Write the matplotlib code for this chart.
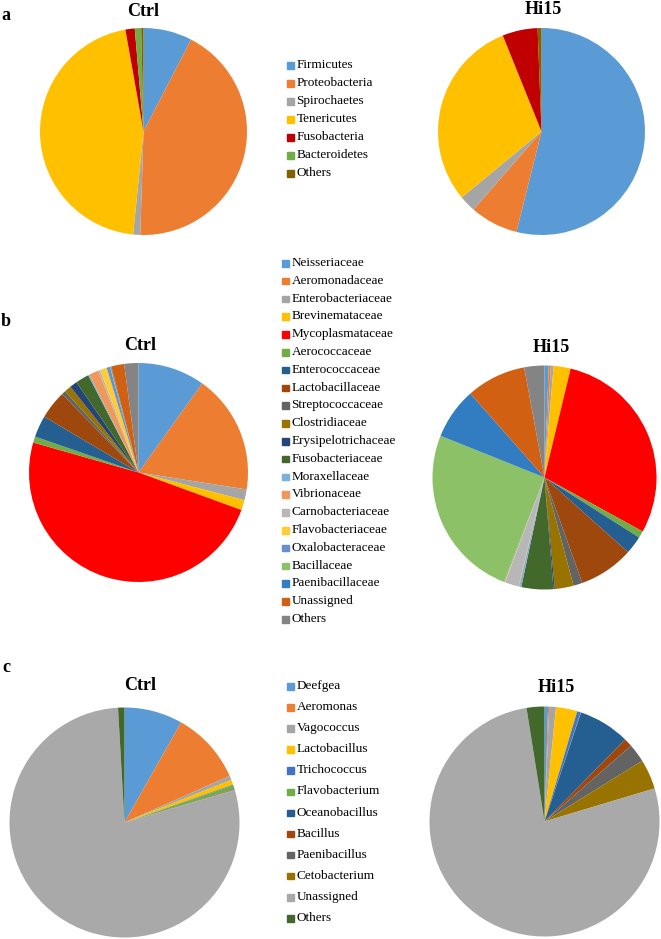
import matplotlib
matplotlib.use("Agg")
import matplotlib.pyplot as plt
from matplotlib.patches import Rectangle

W, H = 661, 939

# a - phylum
phylum = ["Firmicutes", "Proteobacteria", "Spirochaetes", "Tenericutes",
          "Fusobacteria", "Bacteroidetes", "Others"]
phylum_ctrl = [7.6, 42.9, 1.1, 45.6, 1.45, 1.0, 0.35]
phylum_hi15 = [53.9, 7.5, 2.6, 29.9, 5.5, 0.0, 0.6]
phylum_col = ["#5B9BD5", "#ED7D31", "#A5A5A5", "#FFC000", "#C00000",
              "#70AD47", "#806000"]

# b - family
family = ["Neisseriaceae", "Aeromonadaceae", "Enterobacteriaceae",
          "Brevinemataceae", "Mycoplasmataceae", "Aerococcaceae",
          "Enterococcaceae", "Lactobacillaceae", "Streptococcaceae",
          "Clostridiaceae", "Erysipelotrichaceae", "Fusobacteriaceae",
          "Moraxellaceae", "Vibrionaceae", "Carnobacteriaceae",
          "Flavobacteriaceae", "Oxalobacteraceae", "Bacillaceae",
          "Paenibacillaceae", "Unassigned", "Others"]
family_ctrl = [9.9, 17.6, 1.6, 1.5, 48.9, 0.9, 3.2, 4.2, 0.6, 1.0, 1.1,
               2.0, 0.2, 1.4, 0.3, 1.0, 0.5, 0.1, 0.1, 1.9, 2.1]
family_hi15 = [0.6, 0.3, 0.4, 2.45, 29.2, 1.0, 2.6, 7.9, 1.3, 2.7, 0.2,
               4.6, 0.3, 0.1, 2.0, 0.1, 0.1, 25.1, 7.4, 8.6, 2.9]
family_col = ["#5B9BD5", "#ED7D31", "#A5A5A5", "#FFC000", "#FF0000",
              "#70AD47", "#255E91", "#9E480E", "#636363", "#997300",
              "#264478", "#43682B", "#7CAFDD", "#F1975A", "#B7B7B7",
              "#FFCD33", "#698ED0", "#8CC168", "#327DC2", "#D26012",
              "#848484"]

# c - genus
genus = ["Deefgea", "Aeromonas", "Vagococcus", "Lactobacillus",
         "Trichococcus", "Flavobacterium", "Oceanobacillus", "Bacillus",
         "Paenibacillus", "Cetobacterium", "Unassigned", "Others"]
genus_ctrl = [8.2, 10.2, 0.6, 0.7, 0.1, 0.5, 0.05, 0.05, 0.05, 0.05,
              78.8, 0.9]
genus_hi15 = [0.5, 0.15, 0.95, 3.0, 0.5, 0.05, 7.2, 1.2, 2.6, 4.2,
              77.1, 2.5]
genus_col = ["#5B9BD5", "#ED7D31", "#A5A5A5", "#FFC000", "#4472C4",
             "#70AD47", "#255E91", "#9E480E", "#636363", "#997300",
             "#A9A9A9", "#43682B"]

serif = "Liberation Serif"
fig = plt.figure(figsize=(W / 100, H / 100), dpi=100)


def pie(vals, cols, cx, cy, r):
    ax = fig.add_axes([(cx - r) / W, 1 - (cy + r) / H, 2 * r / W, 2 * r / H])
    ax.pie(vals, colors=cols, startangle=90, counterclock=False,
           wedgeprops=dict(linewidth=0))
    ax.set_xlim(-1, 1)
    ax.set_ylim(-1, 1)
    ax.set_aspect("equal")
    ax.axis("off")


def txt(x, y, s, size=13, bold=True):
    fig.text(x / W, 1 - y / H, s, ha="center", va="center", fontsize=size,
             fontfamily=serif, fontweight="bold" if bold else "normal")


def legend(labels, cols, x, y0, step):
    for i, (lab, c) in enumerate(zip(labels, cols)):
        y = y0 + i * step
        fig.patches.append(Rectangle((x / W, 1 - (y + 3.5) / H), 6.5 / W, 6.5 / H,
                                     color=c, transform=fig.transFigure))
        fig.text((x + 9.5) / W, 1 - y / H, lab, ha="left", va="center",
                 fontsize=9.5, fontfamily=serif)


# row a
txt(6, 15, "a")
txt(143, 11, "Ctrl")
txt(543, 9, "Hi15")
pie(phylum_ctrl, phylum_col, 143.5, 131.5, 103.5)
pie(phylum_hi15, phylum_col, 541.5, 131.5, 103.5)
legend(phylum, phylum_col, 287, 65, 18)

# row b
txt(6, 322, "b")
txt(140, 345, "Ctrl")
txt(551, 348, "Hi15")
pie(family_ctrl, family_col, 138.5, 472.5, 109.5)
pie(family_hi15, family_col, 544.5, 477.5, 112)
legend(family, family_col, 282, 263, 17.8)

# row c
txt(6, 668, "c")
txt(140, 685, "Ctrl")
txt(556, 687, "Hi15")
pie(genus_ctrl, genus_col, 124.5, 822.5, 115)
pie(genus_hi15, genus_col, 544.5, 821.5, 115)
legend(genus, genus_col, 287, 686, 21.1)

fig.savefig("out.png", dpi=100)
